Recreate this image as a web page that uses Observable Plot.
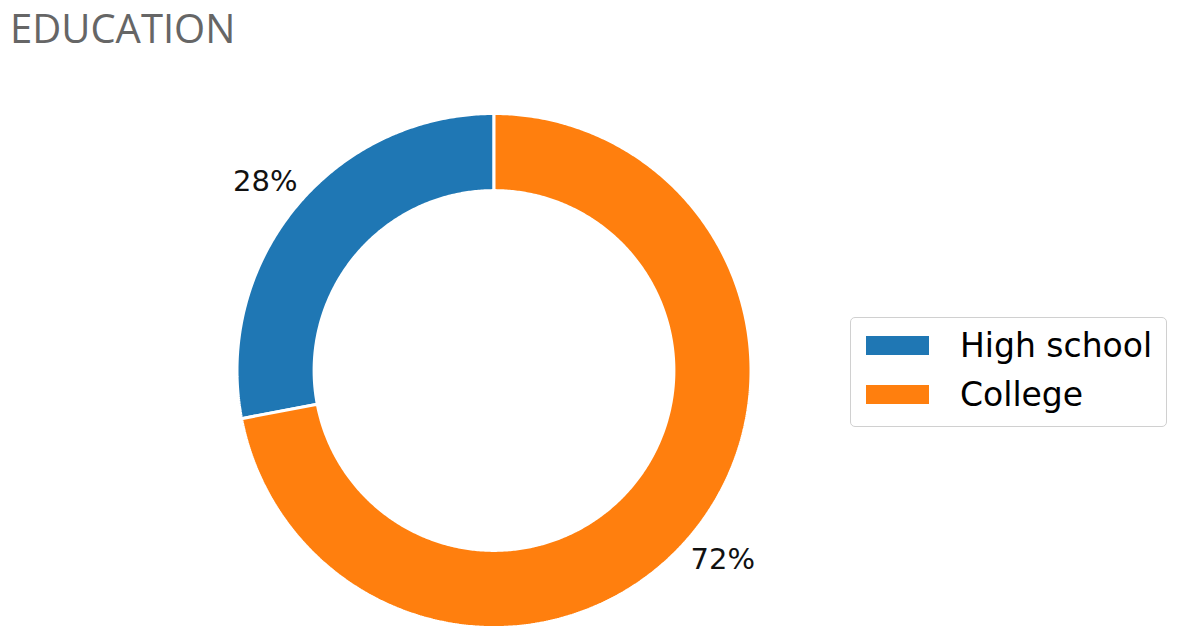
<!DOCTYPE html>
<html>
<head>
<meta charset="utf-8">
<script src="https://cdn.jsdelivr.net/npm/d3@7"></script>
<script src="https://cdn.jsdelivr.net/npm/@observablehq/plot@0.6"></script>
<style>
  html, body { margin: 0; padding: 0; background: #fff; }
  #wrap { position: relative; width: 1178px; height: 639px; overflow: hidden; }
  #title { position: absolute; left: 10px; top: 0px; font-family: "Open Sans", sans-serif; font-size: 40px; color: #666; line-height: 1.4; white-space: nowrap; }
  #chart { position: absolute; left: 0; top: 0; }
  #legend { position: absolute; left: 850px; top: 317px; width: 317px; height: 110px; border: 1.5px solid #d0d0d0; border-radius: 5px; box-sizing: border-box; font-family: "DejaVu Sans", sans-serif; font-size: 33px; color: #000; }
  .item { position: absolute; left: 15px; height: 20px; display: flex; align-items: center; }
  .sw { width: 63px; height: 19px; margin-right: 31px; }
  .lab { white-space: nowrap; line-height: 1; }
</style>
</head>
<body>
<div id="wrap">
  <div id="chart"></div>
  <div id="title">EDUCATION</div>
  <div id="legend"></div>
</div>
<script>
const categories = ["High school", "College"];
const values = [28, 72];
const colors = ["#1f77b4", "#ff7f0e"];

const innerRatio = 0.7;     // donut hole radius relative to outer
const labelDist = 1.155;    // percentage label distance relative to outer

const total = d3.sum(values);
// build wedge polygons (counter-clockwise from 12 o'clock, like matplotlib startangle=90)
const wedges = [];
const labels = [];
let cum = 0;
categories.forEach((c, i) => {
  const a0 = Math.PI / 2 + (cum / total) * 2 * Math.PI;
  cum += values[i];
  const a1 = Math.PI / 2 + (cum / total) * 2 * Math.PI;
  const n = Math.max(8, Math.ceil((a1 - a0) / (Math.PI / 360)));
  const pts = [];
  for (let k = 0; k <= n; k++) {
    const a = a0 + (a1 - a0) * k / n;
    pts.push({cat: c, x: Math.cos(a), y: Math.sin(a)});
  }
  for (let k = n; k >= 0; k--) {
    const a = a0 + (a1 - a0) * k / n;
    pts.push({cat: c, x: innerRatio * Math.cos(a), y: innerRatio * Math.sin(a)});
  }
  pts.push({...pts[0]});
  wedges.push(...pts);
  const am = (a0 + a1) / 2;
  labels.push({cat: c, x: labelDist * Math.cos(am), y: labelDist * Math.sin(am), text: Math.round(values[i] / total * 100) + "%"});
});

const cx = 493.5, cy = 370, R = 257;
const plot = Plot.plot({
  width: 1178,
  height: 639,
  margin: 0,
  x: {domain: [-1, 1], range: [cx - R, cx + R], axis: null},
  y: {domain: [-1, 1], range: [cy + R, cy - R], axis: null},
  color: {domain: categories, range: colors},
  style: {background: "transparent", fontFamily: "DejaVu Sans, sans-serif"},
  marks: [
    Plot.line(wedges, {x: "x", y: "y", z: "cat", fill: "cat", stroke: "white", strokeWidth: 3, strokeLinejoin: "miter", curve: "linear"}),
    Plot.text(labels, {x: "x", y: "y", text: "text", fontSize: 29, fill: "#111", textAnchor: "middle", lineAnchor: "middle"})
  ]
});
document.getElementById("chart").appendChild(plot);

const legend = document.getElementById("legend");
categories.forEach((c, i) => {
  const it = document.createElement("div");
  it.className = "item";
  it.style.top = (17 + i * 49) + "px";
  it.innerHTML = `<div class="sw" style="background:${colors[i]}"></div><div class="lab">${c}</div>`;
  legend.appendChild(it);
});
</script>
</body>
</html>
